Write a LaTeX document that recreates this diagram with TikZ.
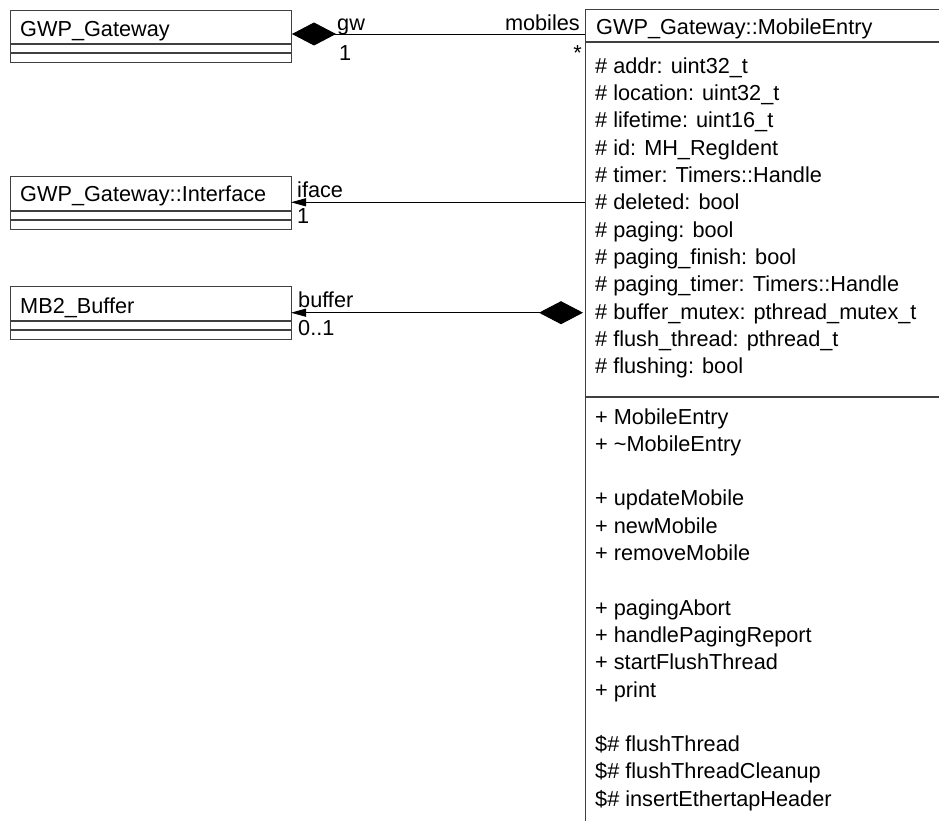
\documentclass[tikz,border=0pt]{standalone}
\usepackage{fontspec}
\setmainfont{Liberation Sans}
\usetikzlibrary{arrows.meta}
\tikzset{
  classbox/.style={draw=black!75, line width=1.3pt, inner sep=0pt, anchor=north west},
  sepline/.style={draw=black!75, line width=1.3pt},
  txt/.style={anchor=base west, inner sep=0pt, font=\fontsize{21.7}{26}\selectfont},
  rtxt/.style={txt, anchor=base east},
  assoc/.style={draw=black, line width=0.9pt},
  navtip/.style={-{Triangle[length=15pt,width=8pt]}},
  comptip/.style={{Diamond[length=44pt,width=23pt]}-},
}
\begin{document}
\begin{tikzpicture}[x=1pt,y=-1pt]
\useasboundingbox (0,0) rectangle (939,821);
\clip (0,0) rectangle (939,821);
\fill[white] (0,0) rectangle (939,821);

% ---- GWP_Gateway
\node[classbox, minimum width=281pt, minimum height=52pt] (gw) at (10,10) {};
\draw[sepline] (10,44) -- (291,44) (10,53) -- (291,53);
\node[txt] (gwname) at (20,36.7) {GWP\_Gateway};

% ---- GWP_Gateway::Interface
\node[classbox, minimum width=281pt, minimum height=53pt] (iface) at (10,176) {};
\draw[sepline] (10,211) -- (291,211) (10,220) -- (291,220);
\node[txt] (ifacename) at (20,201.7) {GWP\_Gateway::Interface};

% ---- MB2_Buffer
\node[classbox, minimum width=281pt, minimum height=53pt] (buf) at (10,286) {};
\draw[sepline] (10,321) -- (291,321) (10,330) -- (291,330);
\node[txt] (bufname) at (20,313) {MB2\_Buffer};

% ---- GWP_Gateway::MobileEntry (runs past the page edges)
\node[classbox, minimum width=370pt, minimum height=840pt] (me) at (585,9) {};
\draw[sepline] (585,42) -- (960,42) (585,397) -- (960,397);
\node[txt] (mename) at (596,35) {GWP\_Gateway::MobileEntry};

\foreach \t [count=\i] in {
  \# addr: uint32\_t,
  \# location: uint32\_t,
  \# lifetime: uint16\_t,
  \# id: MH\_RegIdent,
  \# timer: Timers::Handle,
  \# deleted: bool,
  \# paging: bool,
  \# paging\_finish: bool,
  \# paging\_timer: Timers::Handle,
  \# buffer\_mutex: pthread\_mutex\_t,
  \# flush\_thread: pthread\_t,
  \# flushing: bool}
  \node[txt] (attr\i) at (595,{73.3+27.3*(\i-1)}) {\t};

\foreach \t/\n in {
  + MobileEntry/0,
  + \textasciitilde MobileEntry/1,
  + updateMobile/3,
  + newMobile/4,
  + removeMobile/5,
  + pagingAbort/7,
  + handlePagingReport/8,
  + startFlushThread/9,
  + print/10,
  \$\# flushThread/12,
  \$\# flushThreadCleanup/13,
  \$\# insertEthertapHeader/14}
  \node[txt] (op\n) at (595,{424+27.3*\n}) {\t};

% ---- connector end points on the class borders
\coordinate (gwR) at (292,34);
\coordinate (meGw) at (585,34);
\coordinate (ifaceR) at (291,202.3);
\coordinate (meIface) at (585,202.3);
\coordinate (bufR) at (291,312.7);
\coordinate (meBuf) at (583,312.7);

% gw / mobiles composition
\draw[assoc, comptip] (gwR) -- (meGw);
\node[txt] (lgw) at (337,31) {gw};
\node[txt] (lgwm) at (339,61) {1};
\node[rtxt] (lmob) at (580,31) {mobiles};
\node[rtxt] (lmobm) at (582,61) {*};

% iface navigable association
\draw[assoc, navtip] (meIface) -- (ifaceR);
\node[txt] (liface) at (297,197.5) {iface};
\node[txt] (lifacem) at (297,223) {1};

% buffer composition
\draw[assoc, {Diamond[length=44pt,width=23pt]}-{Triangle[length=15pt,width=8pt]}] (meBuf) -- (bufR);
\node[txt] (lbuf) at (298,307) {buffer};
\node[txt] (lbufm) at (298,335) {0..1};
\end{tikzpicture}
\end{document}
